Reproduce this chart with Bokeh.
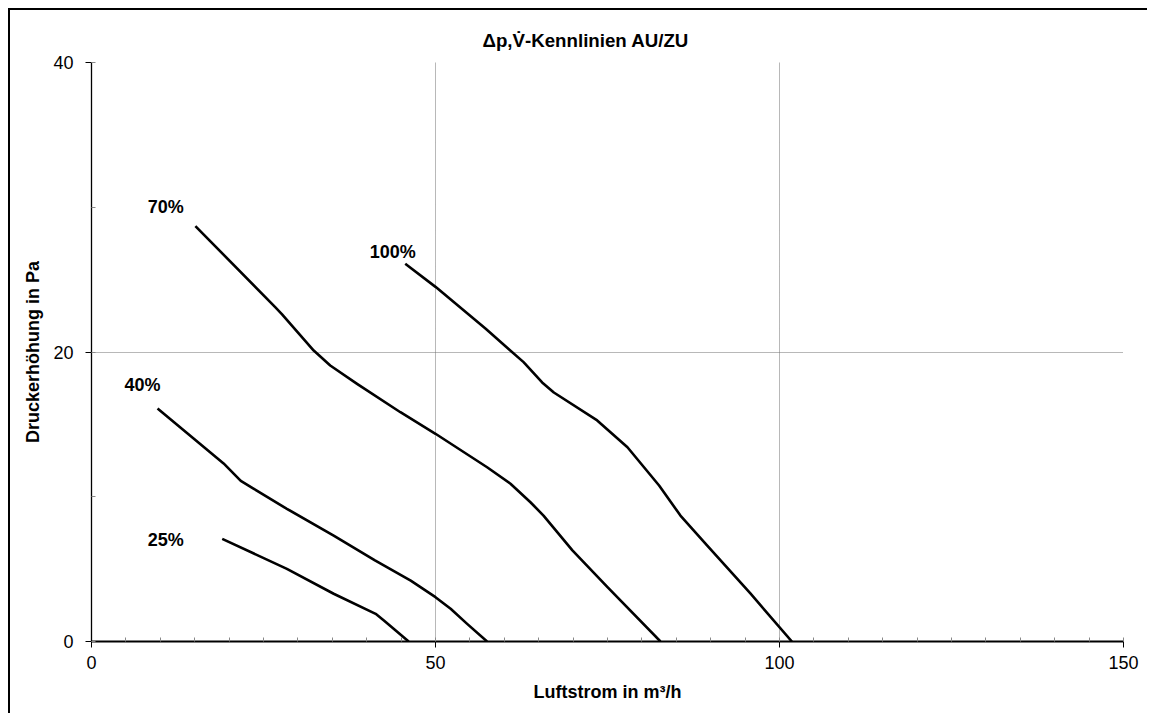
from bokeh.plotting import figure
from bokeh.models import Range1d, FixedTicker, ColumnDataSource, LabelSet
from bokeh.core.properties import value
from bokeh.embed import file_html
from bokeh.resources import INLINE

# ---- data ----
x25 = [19.0, 28.4, 35.2, 41.3, 42.5, 46.1]
y25 = [7.09, 5.02, 3.3, 1.91, 1.45, 0.0]

x40 = [9.6, 19.2, 21.7, 23.6, 28.4, 35.2, 41.2, 46.4, 50.0, 52.2, 54.6, 57.5]
y40 = [16.1, 12.3, 11.1, 10.55, 9.17, 7.32, 5.6, 4.2, 3.06, 2.26, 1.22, 0.0]

x70 = [15.1, 26.7, 27.7, 32.3, 34.7, 38.6, 44.9, 50.0, 57.5, 60.9, 63.8, 65.7, 69.9, 75.0, 82.7]
y70 = [28.7, 23.1, 22.6, 20.1, 19.07, 17.8, 15.84, 14.35, 12.04, 10.9, 9.62, 8.7, 6.29, 3.75, 0.0]

x100 = [45.6, 50.0, 57.3, 62.8, 65.5, 67.2, 73.5, 77.9, 82.5, 85.6, 89.5, 95.8, 101.8]
y100 = [26.1, 24.5, 21.6, 19.3, 17.9, 17.2, 15.27, 13.42, 10.78, 8.7, 6.63, 3.3, 0.0]

curve_names = ["25%", "40%", "70%", "100%"]
label_x = [10.8, 7.4, 10.8, 43.8]
label_y = [7.0, 17.7, 30.0, 26.9]

x_ticks = [0, 50, 100, 150]
y_ticks = [0, 20, 40]

title_text = "\u0394p,V\u0307-Kennlinien AU/ZU"
x_label = "Luftstrom in m\u00b3/h"
y_label = "Druckerh\u00f6hung in Pa"

FONT = "Liberation Sans"

p = figure(width=1139, height=705,
           x_range=Range1d(0, 150), y_range=Range1d(0, 40),
           output_backend="svg", toolbar_location=None,
           min_border_left=81, min_border_right=26,
           min_border_top=52, min_border_bottom=74)
p.styles = {"margin-left": "8px", "margin-top": "8px",
            "border-top": "2px solid black", "border-left": "2px solid black"}

p.title.text = title_text
p.title.align = "left"
p.title.offset = 391
p.title.standoff = 24
p.title.text_font = FONT
p.title.text_font_size = "18.7px"
p.title.text_font_style = "bold"
p.title.text_color = "black"

p.outline_line_color = None

for xs, ys in [(x25, y25), (x40, y40), (x70, y70), (x100, y100)]:
    p.line(xs, ys, line_color="black", line_width=2.6, line_join="round", line_cap="butt")

src = ColumnDataSource(dict(x=label_x, y=label_y, t=curve_names))
p.add_layout(LabelSet(x="x", y="y", text="t", source=src,
                      text_font=value(FONT), text_font_size="18px",
                      text_font_style="bold", text_align="center",
                      text_baseline="middle", text_color="black"))

p.xaxis.ticker = FixedTicker(ticks=x_ticks, minor_ticks=list(range(0, 151, 5)))
p.yaxis.ticker = FixedTicker(ticks=y_ticks, minor_ticks=list(range(0, 41, 10)))

for ax in (p.xaxis, p.yaxis):
    ax.axis_line_color = "black"
    ax.major_tick_line_color = "black"
    ax.major_tick_out = 6
    ax.major_tick_in = 0
    ax.minor_tick_line_color = "#888888"
    ax.minor_tick_in = 4
    ax.minor_tick_out = 0
    ax.major_label_text_font = FONT
    ax.major_label_text_font_size = "18px"
    ax.major_label_text_color = "black"
    ax.axis_label_text_font = FONT
    ax.axis_label_text_font_size = "18px"
    ax.axis_label_text_font_style = "bold"
    ax.axis_label_text_color = "black"

p.xaxis.axis_line_width = 2
p.yaxis.axis_line_width = 1.3
p.xaxis.axis_label = x_label
p.yaxis.axis_label = y_label
p.xaxis.major_label_standoff = 8
p.yaxis.major_label_standoff = 12
p.xaxis.axis_label_standoff = 10
p.yaxis.axis_label_standoff = 7

p.xgrid.grid_line_color = "#707070"
p.xgrid.grid_line_dash = "1 1"
p.ygrid.grid_line_color = "#707070"
p.ygrid.grid_line_dash = "1 1"

open("out.html", "w").write(file_html(p, INLINE))
